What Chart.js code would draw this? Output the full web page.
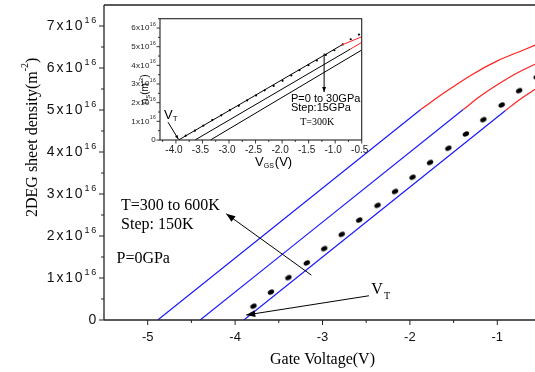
<!DOCTYPE html>
<html>
<head>
<meta charset="utf-8">
<script src="https://cdn.jsdelivr.net/npm/chart.js@4.4.1/dist/chart.umd.min.js"></script>
<style>
  html, body { margin: 0; padding: 0; background: #fff; width: 535px; height: 372px; overflow: hidden; }
  #main { position: absolute; left: 0; top: 0; }
  #inset { position: absolute; left: 100px; top: 0; }
</style>
</head>
<body>
<canvas id="main" width="560" height="372"></canvas>
<canvas id="inset" width="280" height="175"></canvas>
<script>
const SANS = '"Liberation Sans", Arial, sans-serif'
const SERIF = '"Liberation Serif", "Times New Roman", serif'
const BLUE = '#1a1aff'
const RED = '#ff2020'
const AXIS = '#222'

// ---- main panel: gate voltage (V) vs sheet density (x10^16 m^-2) ----
// T = 300 K (right line), 450 K, 600 K (left line)
const v300Blue = [-3.90, -0.906]
const n300Blue = [0, 4.99]
const v300Red = [-0.906, -0.75, -0.6, -0.5]
const n300Red = [4.99, 5.24, 5.45, 5.58]

const v450Blue = [-4.40, -1.39]
const n450Blue = [0, 5.01]
const v450Red = [-1.39, -1.2, -1.0, -0.8, -0.6, -0.5]
const n450Red = [5.01, 5.32, 5.60, 5.85, 6.06, 6.15]

const v600Blue = [-4.885, -1.876]
const n600Blue = [0, 5.01]
const v600Red = [-1.876, -1.6, -1.3, -1.0, -0.7, -0.5]
const n600Red = [5.01, 5.42, 5.83, 6.17, 6.43, 6.60]

// measured points
const vDots = [-3.79, -3.59, -3.39, -3.18, -2.98, -2.78, -2.58, -2.37, -2.17, -1.97, -1.77, -1.56, -1.36, -1.16, -0.95, -0.75, -0.55]
const nDots = [0.33, 0.665, 1.01, 1.36, 1.70, 2.04, 2.38, 2.73, 3.06, 3.40, 3.75, 4.09, 4.43, 4.77, 5.12, 5.46, 5.79]

const xTicks = [-5, -4, -3, -2, -1]
const xMinor = [-4.5, -3.5, -2.5, -1.5, -0.5]
const yTicks = [0, 1, 2, 3, 4, 5, 6, 7]
const yMinor = [0.5, 1.5, 2.5, 3.5, 4.5, 5.5, 6.5]

// ---- inset: V_GS (V) vs n_s (x10^16 m^-2), P = 0, 15, 30 GPa ----
const vIn0Black = [-3.95, -0.87]
const nIn0Black = [0, 5.10]
const vIn0Red = [-0.87, -0.5]
const nIn0Red = [5.10, 5.53]
const vIn15Black = [-3.64, -0.72]
const nIn15Black = [0, 4.86]
const vIn15Red = [-0.72, -0.5]
const nIn15Red = [4.86, 5.23]
const vIn30Black = [-3.35, -0.5]
const nIn30Black = [0, 4.82]

const vInDots = [-3.816, -3.642, -3.484, -3.315, -3.146, -2.985, -2.816, -2.659, -2.490, -2.328, -2.159, -1.991, -1.827, -1.672, -1.503, -1.345, -1.176, -1.015, -0.857, -0.707, -0.552]
const nInDots = [0.23, 0.50, 0.77, 1.07, 1.32, 1.60, 1.83, 2.12, 2.39, 2.66, 2.90, 3.17, 3.46, 3.74, 4.01, 4.26, 4.56, 4.81, 5.12, 5.40, 5.65]

const inXTicks = [-4.0, -3.5, -3.0, -2.5, -2.0, -1.5, -1.0, -0.5]
const inXMinor = [-4.25, -3.75, -3.25, -2.75, -2.25, -1.75, -1.25, -0.75]
const inYTicks = [0, 1, 2, 3, 4, 5, 6]
const inYMinor = [0.5, 1.5, 2.5, 3.5, 4.5, 5.5, 6.5]

function pts(xs, ys) {
  return xs.map((x, i) => ({ x: x, y: ys[i] }))
}

function curve(xs, ys, color, width) {
  return {
    data: pts(xs, ys), showLine: true, borderColor: color, borderWidth: width,
    pointRadius: 0, fill: false, cubicInterpolationMode: 'monotone'
  }
}

function makeDot(rx, ry) {
  const c = document.createElement('canvas')
  c.width = 12; c.height = 12
  const g = c.getContext('2d')
  g.translate(6, 6)
  g.rotate(-0.55)
  g.beginPath()
  g.ellipse(0, 0, rx, ry, 0, 0, Math.PI * 2)
  g.fillStyle = '#000'
  g.fill()
  return c
}

function seg(ctx, x1, y1, x2, y2) {
  ctx.beginPath(); ctx.moveTo(x1, y1); ctx.lineTo(x2, y2); ctx.stroke()
}

function arrow(ctx, x1, y1, x2, y2, len, half) {
  seg(ctx, x1, y1, x2, y2)
  const a = Math.atan2(y2 - y1, x2 - x1)
  ctx.beginPath()
  ctx.moveTo(x2, y2)
  ctx.lineTo(x2 - len * Math.cos(a) + half * Math.sin(a), y2 - len * Math.sin(a) - half * Math.cos(a))
  ctx.lineTo(x2 - len * Math.cos(a) - half * Math.sin(a), y2 - len * Math.sin(a) + half * Math.cos(a))
  ctx.closePath()
  ctx.fill()
}

// right aligned "kx10^16" label, vertically centred on y
function sciLabel(ctx, k, x, y, size, supSize, spacing) {
  ctx.textAlign = 'right'
  ctx.textBaseline = 'middle'
  ctx.letterSpacing = spacing + 'px'
  if (k === 0) {
    ctx.font = size + 'px ' + SANS
    ctx.fillText('0', x, y)
    ctx.letterSpacing = '0px'
    return
  }
  ctx.font = supSize + 'px ' + SANS
  const w = ctx.measureText('16').width
  ctx.fillText('16', x, y - size * 0.42)
  ctx.font = size + 'px ' + SANS
  ctx.fillText(k + 'x10', x - w, y)
  ctx.letterSpacing = '0px'
}

const mainDecor = {
  id: 'mainDecor',
  afterDatasetsDraw(chart) {
    const ctx = chart.ctx
    const xs = chart.scales.x, ys = chart.scales.y
    const a = chart.chartArea
    ctx.save()
    ctx.strokeStyle = AXIS
    ctx.fillStyle = '#000'
    ctx.lineWidth = 1.3
    seg(ctx, a.left, a.top, a.left, a.bottom)
    seg(ctx, a.left, a.bottom, a.right, a.bottom)
    seg(ctx, a.left, a.top, a.right, a.top)
    seg(ctx, a.right, a.top, a.right, a.bottom)
    ctx.lineWidth = 1
    xTicks.forEach(v => { const p = xs.getPixelForValue(v); seg(ctx, p, a.bottom, p, a.bottom + 5) })
    xMinor.forEach(v => { const p = xs.getPixelForValue(v); seg(ctx, p, a.bottom, p, a.bottom + 3) })
    yTicks.forEach(v => { const p = ys.getPixelForValue(v); seg(ctx, a.left, p, a.left - 5, p) })
    yMinor.forEach(v => { const p = ys.getPixelForValue(v); seg(ctx, a.left, p, a.left - 3, p) })

    ctx.fillStyle = '#111'
    ctx.font = '13px ' + SANS
    ctx.textAlign = 'center'
    ctx.textBaseline = 'middle'
    xTicks.forEach(v => ctx.fillText(String(v), xs.getPixelForValue(v), a.bottom + 17))
    yTicks.forEach(v => sciLabel(ctx, v, a.left - 6, ys.getPixelForValue(v), 14, 9, 1.8))

    // axis titles
    ctx.fillStyle = '#000'
    ctx.font = '16px ' + SERIF
    ctx.textAlign = 'center'
    ctx.fillText('Gate Voltage(V)', xs.getPixelForValue(-3.0), a.bottom + 40)
    ctx.save()
    ctx.translate(a.left - 71, ys.getPixelForValue(4.35))
    ctx.rotate(-Math.PI / 2)
    ctx.textAlign = 'left'
    const t1 = '2DEG sheet density(m'
    const w1 = ctx.measureText(t1).width
    ctx.font = '10px ' + SERIF
    const w2 = ctx.measureText('-2').width
    ctx.font = '16px ' + SERIF
    const w3 = ctx.measureText(')').width
    const x0 = -(w1 + w2 + w3) / 2
    ctx.fillText(t1, x0, 0)
    ctx.fillText(')', x0 + w1 + w2, 0)
    ctx.font = '10px ' + SERIF
    ctx.fillText('-2', x0 + w1, -8)
    ctx.restore()

    // annotations
    ctx.font = '16px ' + SERIF
    ctx.textAlign = 'left'
    ctx.fillText('T=300 to 600K', xs.getPixelForValue(-5.305), ys.getPixelForValue(2.73))
    ctx.fillText('Step: 150K', xs.getPixelForValue(-5.305), ys.getPixelForValue(2.26))
    ctx.fillText('P=0GPa', xs.getPixelForValue(-5.357), ys.getPixelForValue(1.45))
    const vx = xs.getPixelForValue(-2.441), vy = ys.getPixelForValue(0.71)
    ctx.fillText('V', vx, vy)
    const vw = ctx.measureText('V').width
    ctx.font = '10px ' + SERIF
    ctx.fillText('T', vx + vw + 1, vy + 6)

    ctx.strokeStyle = '#000'
    ctx.lineWidth = 1
    arrow(ctx, xs.getPixelForValue(-3.128), ys.getPixelForValue(1.07),
      xs.getPixelForValue(-4.102), ys.getPixelForValue(2.53), 9, 3.5)
    arrow(ctx, xs.getPixelForValue(-2.469), ys.getPixelForValue(0.577),
      xs.getPixelForValue(-3.873), ys.getPixelForValue(0.119), 9, 3.5)
    ctx.restore()
  }
}

const insetDecor = {
  id: 'insetDecor',
  afterDatasetsDraw(chart) {
    const ctx = chart.ctx
    const xs = chart.scales.x, ys = chart.scales.y
    const a = chart.chartArea
    ctx.save()
    ctx.strokeStyle = AXIS
    ctx.fillStyle = '#000'
    ctx.lineWidth = 1.1
    ctx.strokeRect(a.left, a.top, a.right - a.left, a.bottom - a.top)
    ctx.lineWidth = 0.9
    inXTicks.forEach(v => { const p = xs.getPixelForValue(v); seg(ctx, p, a.bottom, p, a.bottom + 3.5) })
    inXMinor.forEach(v => { const p = xs.getPixelForValue(v); seg(ctx, p, a.bottom, p, a.bottom + 2) })
    inYTicks.forEach(v => { const p = ys.getPixelForValue(v); seg(ctx, a.left, p, a.left - 3.5, p) })
    inYMinor.forEach(v => { const p = ys.getPixelForValue(v); seg(ctx, a.left, p, a.left - 2, p) })

    ctx.fillStyle = '#222'
    ctx.font = '10px ' + SANS
    ctx.textAlign = 'center'
    ctx.textBaseline = 'middle'
    inXTicks.forEach(v => ctx.fillText(v.toFixed(1), xs.getPixelForValue(v) - 2, a.bottom + 10))
    inYTicks.forEach(v => sciLabel(ctx, v, a.left - 4, ys.getPixelForValue(v), 8, 5, 0.3))

    // axis titles
    ctx.fillStyle = '#000'
    ctx.textAlign = 'left'
    ctx.font = '13px ' + SANS
    let tx = xs.getPixelForValue(-2.0) - 27
    const ty = a.bottom + 22
    ctx.fillText('V', tx, ty)
    tx += ctx.measureText('V').width
    ctx.font = '7px ' + SANS
    ctx.fillText('GS', tx, ty + 4)
    tx += ctx.measureText('GS').width + 1
    ctx.font = '13px ' + SANS
    ctx.fillText('(V)', tx, ty)

    ctx.save()
    ctx.translate(a.left - 15, ys.getPixelForValue(3.2))
    ctx.rotate(-Math.PI / 2)
    ctx.font = '10px ' + SANS
    let rx = -24
    ctx.fillText('n', rx, 0); rx += ctx.measureText('n').width
    ctx.font = '6px ' + SANS
    ctx.fillText('S', rx, 3); rx += ctx.measureText('S').width
    ctx.font = '10px ' + SANS
    ctx.fillText('(m', rx, 0); rx += ctx.measureText('(m').width
    ctx.font = '6px ' + SANS
    ctx.fillText('-2', rx, -4); rx += ctx.measureText('-2').width
    ctx.font = '10px ' + SANS
    ctx.fillText(')', rx, 0)
    ctx.restore()

    // annotations
    ctx.font = '11px ' + SANS
    ctx.fillText('P=0 to 30GPa', xs.getPixelForValue(-1.833), ys.getPixelForValue(2.20))
    ctx.fillText('Step:15GPa', xs.getPixelForValue(-1.833), ys.getPixelForValue(1.73))
    ctx.font = '10px ' + SERIF
    ctx.fillText('T=300K', xs.getPixelForValue(-1.658), ys.getPixelForValue(0.93))
    ctx.font = '13px ' + SANS
    const vx = xs.getPixelForValue(-4.223), vy = ys.getPixelForValue(1.34)
    ctx.fillText('V', vx, vy)
    const vw = ctx.measureText('V').width
    ctx.font = '8px ' + SANS
    ctx.fillText('T', vx + vw, vy + 4)

    ctx.strokeStyle = '#000'
    ctx.lineWidth = 1
    arrow(ctx, xs.getPixelForValue(-1.208), ys.getPixelForValue(4.64),
      xs.getPixelForValue(-1.208), ys.getPixelForValue(2.57), 5, 2)
    arrow(ctx, xs.getPixelForValue(-4.148), ys.getPixelForValue(0.95),
      xs.getPixelForValue(-3.953), ys.getPixelForValue(0.04), 4, 1.5)
    ctx.restore()
  }
}

const hiddenScales = (xmin, xmax, ymin, ymax) => ({
  x: { type: 'linear', min: xmin, max: xmax, display: false },
  y: { type: 'linear', min: ymin, max: ymax, display: false }
})

new Chart(document.getElementById('main'), {
  type: 'scatter',
  data: {
    datasets: [
      curve(v600Blue, n600Blue, BLUE, 1.2),
      curve(v600Red, n600Red, RED, 1.2),
      curve(v450Blue, n450Blue, BLUE, 1.2),
      curve(v450Red, n450Red, RED, 1.2),
      curve(v300Blue, n300Blue, BLUE, 1.2),
      curve(v300Red, n300Red, RED, 1.2),
      { data: pts(vDots, nDots), showLine: false, pointStyle: makeDot(3.4, 2.4), pointRadius: 4 }
    ]
  },
  options: {
    responsive: false,
    animation: false,
    layout: { padding: { left: 104, right: 19, top: 5, bottom: 52 } },
    scales: hiddenScales(-5.5, -0.5, 0, 7.5),
    plugins: { legend: { display: false }, tooltip: { enabled: false } }
  },
  plugins: [mainDecor]
})

new Chart(document.getElementById('inset'), {
  type: 'scatter',
  data: {
    datasets: [
      curve(vIn0Black, nIn0Black, '#000', 1),
      curve(vIn0Red, nIn0Red, RED, 1),
      curve(vIn15Black, nIn15Black, '#000', 1),
      curve(vIn15Red, nIn15Red, RED, 1),
      curve(vIn30Black, nIn30Black, '#000', 1),
      { data: pts(vInDots, nInDots), showLine: false, pointStyle: 'circle', pointRadius: 1.1,
        backgroundColor: '#000', borderColor: '#000', borderWidth: 0 }
    ]
  },
  options: {
    responsive: false,
    animation: false,
    layout: { padding: { left: 60, right: 18.3, top: 18.7, bottom: 35 } },
    scales: hiddenScales(-4.3, -0.5, 0, 6.5),
    plugins: { legend: { display: false }, tooltip: { enabled: false } }
  },
  plugins: [insetDecor]
})
</script>
</body>
</html>
